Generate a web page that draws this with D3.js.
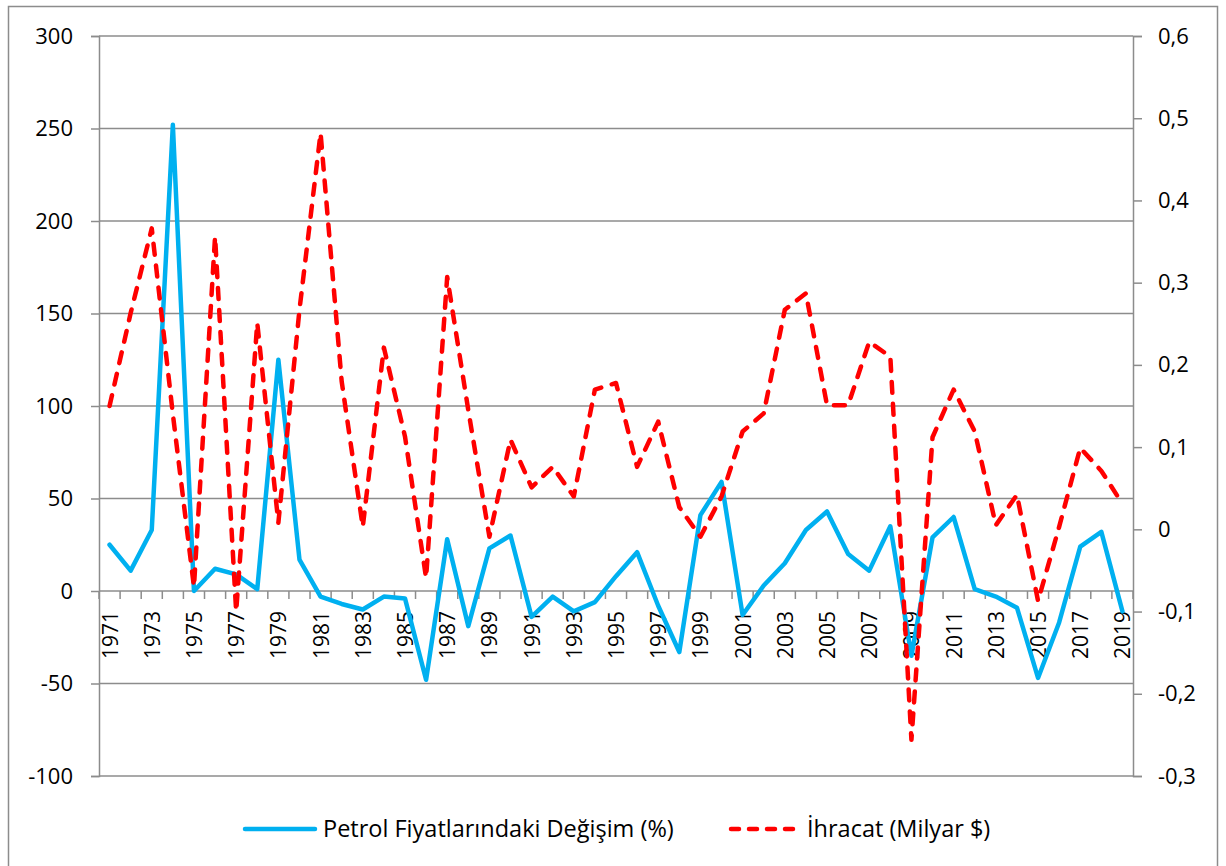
<!DOCTYPE html>
<html>
<head>
<meta charset="utf-8">
<script src="https://cdn.jsdelivr.net/npm/d3@7"></script>
<style>
  body { margin: 0; background: #fff; }
  text { font-family: "Open Sans", sans-serif; fill: #000; }
</style>
</head>
<body>
<svg id="chart" width="1226" height="866"></svg>
<script>
// years 1971..2019
const years = d3.range(1971, 2020);

// Petrol Fiyatlarındaki Değişim (%), left axis
const petrol = [25, 11, 33, 252, 0, 12, 9, 1, 125, 17,
  -3, -7, -10, -3, -4, -48, 28, -19, 23, 30,
  -14, -3, -11, -6, 8, 21, -8, -33, 41, 59,
  -13, 3, 15, 33, 43, 20, 11, 35, -35, 29,
  40, 1, -3, -9, -47, -17, 24, 32, -11];

// İhracat (Milyar $), right axis
const ihracat = [0.15, 0.263, 0.366, 0.14, -0.07, 0.356, -0.10, 0.251, 0.008, 0.267,
  0.482, 0.18, 0.003, 0.221, 0.113, -0.059, 0.307, 0.145, -0.009, 0.109,
  0.051, 0.076, 0.040, 0.170, 0.178, 0.076, 0.131, 0.027, -0.009, 0.040,
  0.119, 0.141, 0.267, 0.287, 0.151, 0.151, 0.228, 0.210, -0.256, 0.112,
  0.170, 0.119, 0.005, 0.042, -0.087, 0.003, 0.099, 0.071, 0.031];

const leftTicks = [-100, -50, 0, 50, 100, 150, 200, 250, 300];
const rightTicks = [-0.3, -0.2, -0.1, 0, 0.1, 0.2, 0.3, 0.4, 0.5, 0.6];
const seriesNames = ['Petrol Fiyatlarındaki Değişim (%)', 'İhracat (Milyar $)'];

const BLUE = '#00B0F0', RED = '#FF0000', GRID = '#8c8c8c';

var svg = d3.select('#chart');
const PLOT_LEFT = 99, PLOT_RIGHT = 1133, PLOT_TOP = 36, PLOT_BOTTOM = 776;

// chart area border
svg.append('rect')
  .attr('x', 8.5).attr('y', 6.5)
  .attr('width', 1209).attr('height', 870)
  .attr('fill', 'none').attr('stroke', GRID).attr('stroke-width', 1.5);

var x = d3.scaleBand().domain(years).range([PLOT_LEFT, PLOT_RIGHT]);
var yL = d3.scaleLinear().domain([-100, 300]).range([PLOT_BOTTOM, PLOT_TOP]);
var yR = d3.scaleLinear().domain([-0.3, 0.6]).range([PLOT_BOTTOM, PLOT_TOP]);

// horizontal gridlines
svg.append('g')
  .selectAll('line')
  .data(leftTicks)
  .enter()
  .append('line')
  .attr('x1', PLOT_LEFT).attr('x2', PLOT_RIGHT)
  .attr('y1', d => yL(d)).attr('y2', d => yL(d))
  .attr('stroke', GRID).attr('stroke-width', 1.5);

// left axis
var axL = svg.append('g')
  .attr('transform', `translate(${PLOT_LEFT},0)`)
  .call(d3.axisLeft(yL).tickValues(leftTicks).tickSize(8).tickPadding(18).tickFormat(d => d));

// right axis
var fmtR = d => (Math.round(d * 10) / 10).toString().replace('.', ',');
var axR = svg.append('g')
  .attr('transform', `translate(${PLOT_RIGHT},0)`)
  .call(d3.axisRight(yR).tickValues(rightTicks).tickSize(9).tickPadding(16).tickFormat(fmtR));

[axL, axR].forEach(a => {
  a.select('.domain').attr('stroke', GRID).attr('stroke-width', 1.5);
  a.selectAll('.tick line').attr('stroke', GRID).attr('stroke-width', 1.5);
  a.selectAll('text')
    .attr('fill', '#000')
    .style('font-family', '"Open Sans", sans-serif')
    .style('font-size', '22px');
});

// category axis on the zero line
var y0 = yL(0);
var xg = svg.append('g');
xg.selectAll('line')
  .data(years.concat([2020]))
  .enter()
  .append('line')
  .attr('x1', d => d === 2020 ? PLOT_RIGHT : x(d))
  .attr('x2', d => d === 2020 ? PLOT_RIGHT : x(d))
  .attr('y1', y0).attr('y2', y0 + 8)
  .attr('stroke', GRID).attr('stroke-width', 1.5);

xg.selectAll('text')
  .data(years.filter((d, i) => i % 2 === 0))
  .enter()
  .append('text')
  .attr('transform', d => `translate(${x(d) + x.bandwidth() / 2 + 8},${y0 + 20}) rotate(-90)`)
  .attr('text-anchor', 'end')
  .style('font-size', '21px')
  .text(d => d);

// lines
var lineL = d3.line().x((d, i) => x(years[i]) + x.bandwidth() / 2).y(d => yL(d));
var lineR = d3.line().x((d, i) => x(years[i]) + x.bandwidth() / 2).y(d => yR(d));

svg.append('path')
  .datum(petrol)
  .attr('d', lineL)
  .attr('fill', 'none')
  .attr('stroke', BLUE)
  .attr('stroke-width', 4.5)
  .attr('stroke-linejoin', 'round')
  .attr('stroke-linecap', 'round');

svg.append('path')
  .datum(ihracat)
  .attr('d', lineR)
  .attr('fill', 'none')
  .attr('stroke', RED)
  .attr('stroke-width', 4.5)
  .attr('stroke-dasharray', '11 11')
  .attr('stroke-linejoin', 'round')
  .attr('stroke-linecap', 'round');

// legend
var legend = svg.append('g').attr('transform', 'translate(0,829)');
var items = [
  { name: seriesNames[0], color: BLUE, dash: null, x: 245 },
  { name: seriesNames[1], color: RED, dash: '8 10', x: 731 }
];
var li = legend.selectAll('g')
  .data(items)
  .enter()
  .append('g')
  .attr('transform', d => `translate(${d.x},0)`);
li.append('line')
  .attr('x1', 0).attr('x2', d => d.dash ? 63 : 70)
  .attr('y1', 0).attr('y2', 0)
  .attr('stroke', d => d.color)
  .attr('stroke-width', 4.5)
  .attr('stroke-linecap', 'round')
  .attr('stroke-dasharray', d => d.dash);
li.append('text')
  .attr('x', d => d.dash ? 76 : 78)
  .attr('y', 8)
  .style('font-size', '23.5px')
  .text(d => d.name);
</script>
</body>
</html>
